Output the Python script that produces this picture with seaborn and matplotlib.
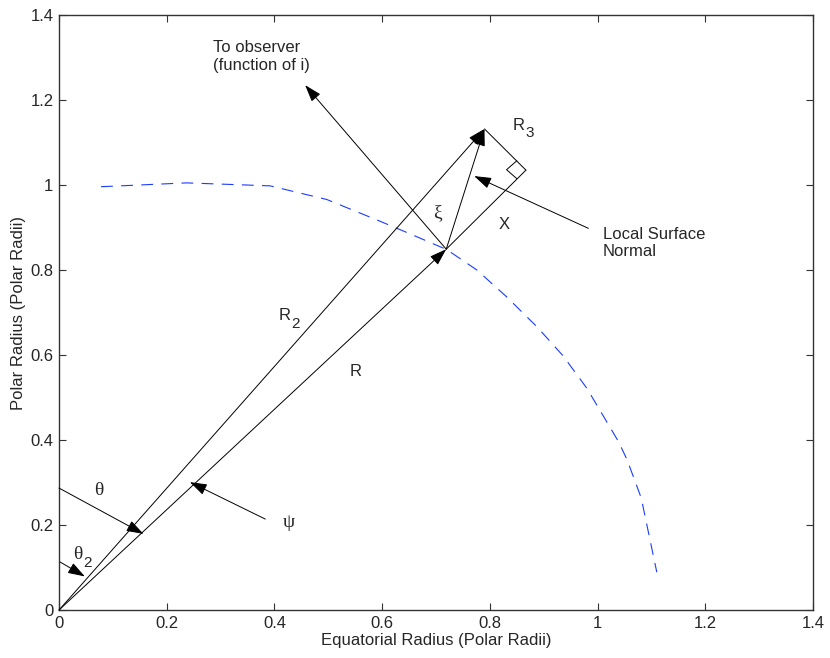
import numpy as np
import pandas as pd
import matplotlib
matplotlib.use('Agg')
import matplotlib.pyplot as plt
import seaborn as sns

# dashed stellar surface
curve_x = [0.078, 0.237, 0.392, 0.497, 0.590, 0.652, 0.720, 0.776, 0.831, 0.887,
           0.936, 0.980, 1.039, 1.055, 1.081, 1.110]
curve_y = [0.996, 1.005, 0.998, 0.966, 0.918, 0.885, 0.848, 0.800, 0.737, 0.667,
           0.598, 0.522, 0.396, 0.353, 0.264, 0.089]

# key points of the construction
origin = (0.0, 0.0)
surface_pt = (0.719, 0.849)
top_pt = (0.790, 1.132)
corner_pt = (0.867, 1.035)
right_angle_x = [0.850, 0.831, 0.850]
right_angle_y = [1.057, 1.036, 1.015]

# arrows: (tail, head)
arrow_names = ['R2', 'R', 'xi', 'observer', 'normal', 'theta', 'theta2', 'psi']
arrow_tails = [origin, origin, surface_pt, surface_pt, (0.983, 0.898),
               (0.0, 0.287), (0.002, 0.113), (0.383, 0.214)]
arrow_heads = [top_pt, surface_pt, top_pt, (0.457, 1.235), (0.771, 1.021),
               (0.157, 0.179), (0.048, 0.079), (0.243, 0.301)]

# labels (main glyph + optional subscript), x = left edge of the glyph
label_texts = ['R', '\u03be', 'X', 'R', 'R', '\u03b8', '\u03c8', '\u03b8']
label_subs = ['3', '', '', '2', '', '', '', '2']
label_x = [0.843, 0.695, 0.817, 0.408, 0.539, 0.066, 0.415, 0.026]
label_y = [1.141, 0.936, 0.908, 0.693, 0.562, 0.282, 0.207, 0.130]
label_serif = [False, True, False, False, False, True, True, True]

ticks = [0, 0.2, 0.4, 0.6, 0.8, 1, 1.2, 1.4]
tick_labels = ['0', '0.2', '0.4', '0.6', '0.8', '1', '1.2', '1.4']

sns.set_style('ticks')
plt.rcParams['font.family'] = ['Liberation Sans', 'DejaVu Sans']
plt.rcParams['xtick.direction'] = 'in'
plt.rcParams['ytick.direction'] = 'in'
plt.rcParams['xtick.top'] = True
plt.rcParams['ytick.right'] = True
plt.rcParams['lines.scale_dashes'] = False

fig = plt.figure(figsize=(8.3, 6.58), dpi=100)
ax = fig.add_axes([0.0711, 0.0729, 0.9084, 0.9043])

df = pd.DataFrame({'x': curve_x, 'y': curve_y})
sns.lineplot(data=df, x='x', y='y', sort=False, ax=ax, color='#1a3cff',
             lw=0.8, linestyle=(0, (8.5, 6)))

# plain construction lines (no heads)
ax.plot([top_pt[0], corner_pt[0]], [top_pt[1], corner_pt[1]], color='k', lw=0.7)
ax.plot([surface_pt[0], corner_pt[0]], [surface_pt[1], corner_pt[1]], color='k', lw=0.7)
ax.plot(right_angle_x, right_angle_y, color='k', lw=0.7)

for tail, head in zip(arrow_tails, arrow_heads):
    ax.annotate('', xy=head, xytext=tail,
                arrowprops=dict(arrowstyle='-|>,head_length=0.75,head_width=0.25',
                                color='k', lw=0.7, mutation_scale=14,
                                shrinkA=0, shrinkB=0))

for txt, sub, lx, ly, serif in zip(label_texts, label_subs, label_x, label_y, label_serif):
    fam = ['Liberation Serif', 'DejaVu Serif'] if serif else ['Liberation Sans', 'DejaVu Sans']
    size = 14 if serif else 12
    ax.text(lx, ly, txt, fontsize=size, ha='left', va='center', family=fam)
    if sub:
        ax.annotate(sub, xy=(lx, ly), xytext=(9 if not serif else 7.5, -6),
                    textcoords='offset points', fontsize=11, ha='left', va='center')

ax.text(0.286, 1.302, 'To observer\n(function of i)', fontsize=12, ha='left',
        va='center', linespacing=1.2)
ax.text(1.010, 0.863, 'Local Surface\nNormal', fontsize=12, ha='left',
        va='center', linespacing=1.2)

ax.set_xlim(0, 1.4)
ax.set_ylim(0, 1.4)
ax.set_xticks(ticks)
ax.set_xticklabels(tick_labels)
ax.set_yticks(ticks)
ax.set_yticklabels(tick_labels)
ax.tick_params(labelsize=12, length=5, width=0.8, color='#333333', pad=4)
ax.set_xlabel('Equatorial Radius (Polar Radii)', fontsize=12, labelpad=2)
ax.set_ylabel('Polar Radius (Polar Radii)', fontsize=12, labelpad=3)
for sp in ax.spines.values():
    sp.set_visible(True)
    sp.set_linewidth(1.0)
    sp.set_color('#333333')

fig.savefig('out.png', dpi=100)
